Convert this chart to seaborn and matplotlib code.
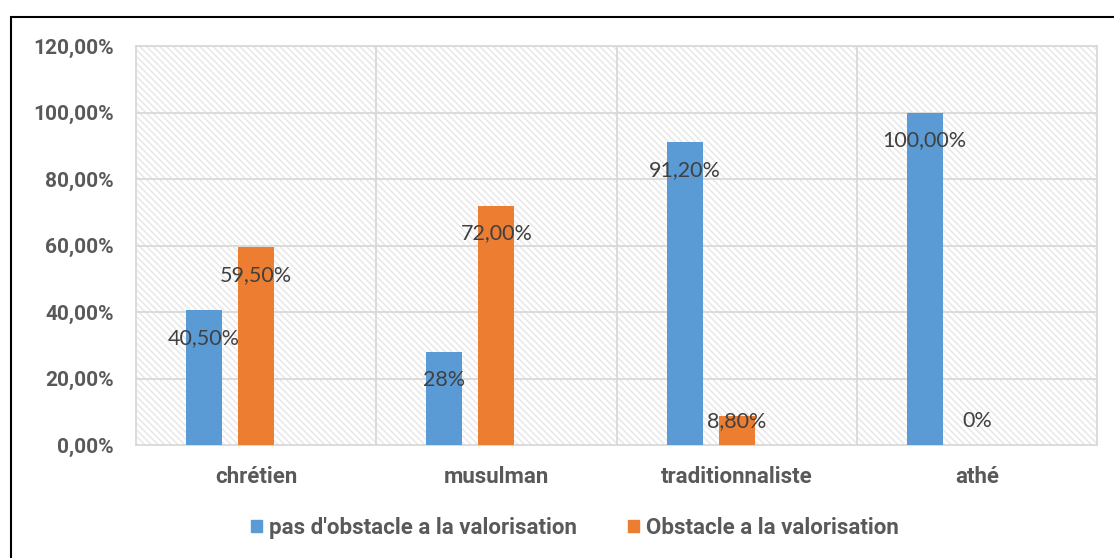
import numpy as np
import pandas as pd
import seaborn as sns
import matplotlib.pyplot as plt
from matplotlib.patches import Rectangle
from matplotlib.ticker import FuncFormatter

categories = ["chrétien", "musulman", "traditionnaliste", "athé"]
series = ["pas d'obstacle a la valorisation", "Obstacle a la valorisation"]
pas_obstacle = [40.5, 28.0, 91.2, 100.0]
obstacle = [59.5, 72.0, 8.8, 0.0]
labels_pas = ["40,50%", "28%", "91,20%", "100,00%"]
labels_obs = ["59,50%", "72,00%", "8,80%", "0%"]
colors = ["#5B9BD5", "#ED7D31", "#A5A5A5"]

# excel leaves room for a third (empty) series in each group
spare = " "
df = pd.DataFrame({
    "cat": categories * 3,
    "serie": [series[0]] * 4 + [series[1]] * 4 + [spare] * 4,
    "val": pas_obstacle + obstacle + [0.0] * 4,
})

sns.set_style("white")
plt.rcParams["font.family"] = ["Lato", "DejaVu Sans"]
plt.rcParams["hatch.color"] = "#e6e6e6"
plt.rcParams["hatch.linewidth"] = 1.0
bold = {"family": ["Roboto", "DejaVu Sans"], "weight": "bold", "size": 16}
bold_y = {"family": ["Roboto", "DejaVu Sans"], "weight": "bold", "size": 15}

fig = plt.figure(figsize=(11.14, 5.58), dpi=100)
ax = fig.add_axes([136 / 1114, 1 - 445 / 558, (1097 - 136) / 1114, (445 - 46) / 558])

sns.barplot(data=df, x="cat", y="val", hue="serie", hue_order=series + [spare],
            palette=colors, saturation=1, width=0.65, gap=0.31, ax=ax, legend=False,
            linewidth=0, zorder=3)
for p in ax.patches:
    if p.get_height() == 0:
        p.set_visible(False)

ax.patch.set_hatch("\\\\\\\\\\")
ax.patch.set_edgecolor("#e6e6e6")
ax.set_ylim(0, 120)
ax.set_xlim(-0.5, 3.5)
ax.set_yticks(np.arange(0, 121, 20))
ax.yaxis.set_major_formatter(FuncFormatter(lambda v, pos: f"{v:.2f}".replace(".", ",") + "%"))
for y in np.arange(20, 121, 20):
    ax.axhline(y, color="#d9d9d9", lw=1.3, zorder=1)
for x in [0.5, 1.5, 2.5]:
    ax.axvline(x, color="#d9d9d9", lw=1.3, zorder=1)
for s in ax.spines.values():
    s.set_color("#d9d9d9")
    s.set_linewidth(1.3)
ax.set_xlabel("")
ax.set_ylabel("")
ax.tick_params(axis="both", length=0, labelcolor="#595959")
ax.tick_params(axis="x", pad=15)
ax.tick_params(axis="y", pad=16)
for t in ax.get_xticklabels():
    t.set_fontproperties(bold)
for t in ax.get_yticklabels():
    t.set_fontproperties(bold_y)

# data labels (inside end, excel style)
off = 0.65 / 3
for i in range(len(categories)):
    ax.text(i - off, max(pas_obstacle[i] - 8.4, 7.2), labels_pas[i], ha="center", va="center",
            fontsize=15.5, color="#404040", zorder=5)
    ax.text(i, max(obstacle[i] - 8.4, 7.2), labels_obs[i], ha="center", va="center",
            fontsize=15.5, color="#404040", zorder=5)

handles = [Rectangle((0, 0), 1, 1, color=c) for c in colors[:2]]
fig.legend(handles, series, loc="center", bbox_to_anchor=(575 / 1114, 1 - 528 / 558),
           ncol=2, frameon=False, handlelength=0.5, handleheight=0.5, handletextpad=0.3,
           columnspacing=2.3, prop=bold, labelcolor="#595959")

fig.patches.append(Rectangle((11 / 1114, -0.05), 1.2, 1 - 17 / 558 + 0.05,
                             transform=fig.transFigure, fill=False, edgecolor="black", lw=1.5))

fig.savefig("out.png", dpi=100)
